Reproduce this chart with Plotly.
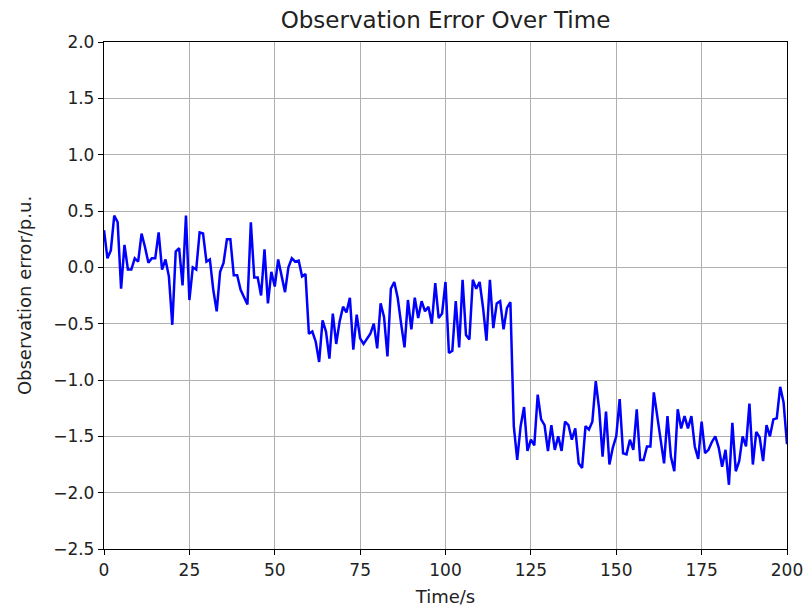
import plotly.graph_objects as go

time_s = list(range(0, 201))
obs_error = [
    0.33, 0.08, 0.15, 0.46, 0.40, -0.19, 0.20, -0.02, -0.02, 0.08,
    0.05, 0.30, 0.18, 0.04, 0.08, 0.08, 0.31, -0.02, 0.07, -0.08,
    -0.51, 0.14, 0.17, -0.16, 0.46, -0.29, 0.00, -0.02, 0.31, 0.30,
    0.05, 0.07, -0.20, -0.39, -0.04, 0.04, 0.25, 0.25, -0.07, -0.07,
    -0.20, -0.27, -0.33, 0.40, -0.09, -0.09, -0.25, 0.16, -0.32, -0.04,
    -0.17, 0.07, -0.07, -0.22, 0.00, 0.08, 0.05, 0.06, -0.08, -0.06,
    -0.59, -0.57, -0.66, -0.84, -0.47, -0.57, -0.81, -0.41, -0.68, -0.48,
    -0.35, -0.40, -0.27, -0.73, -0.42, -0.63, -0.68, -0.63, -0.59, -0.50,
    -0.72, -0.32, -0.44, -0.79, -0.19, -0.13, -0.27, -0.50, -0.71, -0.29,
    -0.55, -0.27, -0.45, -0.30, -0.39, -0.35, -0.50, -0.14, -0.45, -0.41,
    -0.13, -0.76, -0.74, -0.30, -0.71, -0.11, -0.60, -0.64, -0.11, -0.19,
    -0.13, -0.36, -0.65, -0.11, -0.54, -0.32, -0.30, -0.55, -0.36, -0.31,
    -1.41, -1.71, -1.41, -1.24, -1.63, -1.53, -1.58, -1.13, -1.35, -1.40,
    -1.63, -1.40, -1.62, -1.50, -1.63, -1.37, -1.40, -1.53, -1.43, -1.74,
    -1.78, -1.41, -1.44, -1.37, -1.01, -1.26, -1.68, -1.28, -1.75, -1.60,
    -1.50, -1.17, -1.65, -1.66, -1.53, -1.62, -1.26, -1.71, -1.71, -1.59,
    -1.59, -1.11, -1.32, -1.51, -1.74, -1.32, -1.68, -1.81, -1.26, -1.43,
    -1.32, -1.43, -1.32, -1.59, -1.70, -1.37, -1.65, -1.62, -1.55, -1.50,
    -1.60, -1.77, -1.62, -1.93, -1.38, -1.81, -1.72, -1.50, -1.59, -1.21,
    -1.75, -1.46, -1.51, -1.72, -1.40, -1.50, -1.35, -1.34, -1.06, -1.20,
    -1.57,
]

title_text = "Observation Error Over Time"
x_label = "Time/s"
y_label = "Observation error/p.u."

fig = go.Figure()
fig.add_trace(go.Scatter(
    x=time_s, y=obs_error, mode="lines",
    line=dict(color="#0000ff", width=2.5),
    showlegend=False,
))

font_family = "DejaVu Sans, sans-serif"
axis_common = dict(
    showline=True, linecolor="black", linewidth=1.3, mirror=True,
    ticks="outside", ticklen=5, tickwidth=1.3, tickcolor="black",
    showgrid=True, gridcolor="#b0b0b0", gridwidth=1.3,
    zeroline=False, automargin=False,
    ticklabeloverflow="allow",
    tickfont=dict(family=font_family, size=17, color="#222222"),
)

fig.update_layout(
    width=807, height=609,
    margin=dict(l=104, r=20, t=42, b=60),
    paper_bgcolor="white", plot_bgcolor="white",
    title=dict(text=title_text, x=0.5, xref="paper", xanchor="center",
               y=1 - 20 / 609, yref="container", yanchor="middle",
               font=dict(family=font_family, size=23, color="#222222")),
    xaxis=dict(range=[0, 200], dtick=25, tick0=0,
               title=dict(text=x_label, standoff=11,
                          font=dict(family=font_family, size=18, color="#222222")),
               **axis_common),
    yaxis=dict(range=[-2.5, 2.0], dtick=0.5, tick0=0, tickformat=".1f",
               title=dict(text=y_label, standoff=16,
                          font=dict(family=font_family, size=18, color="#222222")),
               **axis_common),
)

fig.write_html("out.html")
